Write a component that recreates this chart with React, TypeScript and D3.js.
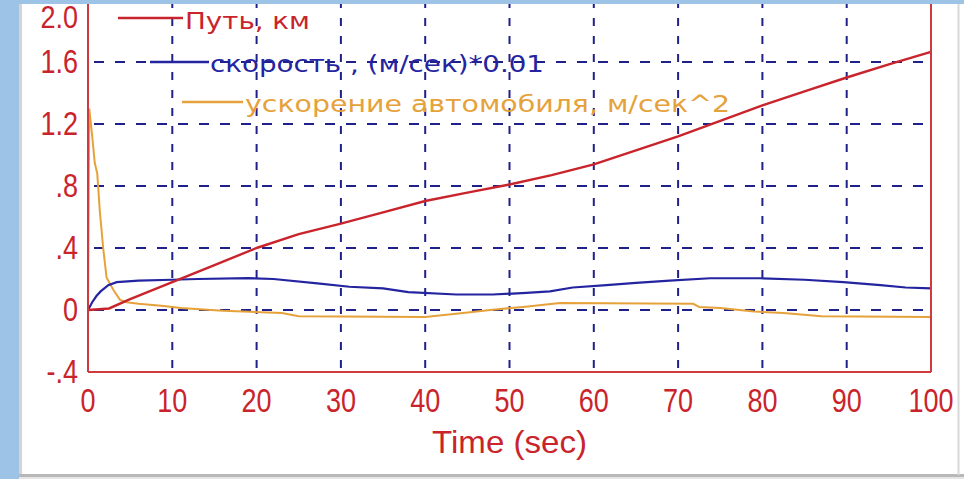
import React from 'react';
import * as d3 from 'd3';

// distance, km
const pathT = [0, 2.5, 5, 10, 15, 20, 25, 30, 35, 40, 45, 50, 55, 60, 65, 70, 75, 80, 85, 90, 95, 100];
const pathV = [0, 0.01, 0.07, 0.18, 0.29, 0.4, 0.49, 0.557, 0.63, 0.703, 0.757, 0.81, 0.87, 0.94, 1.03, 1.12, 1.22, 1.32, 1.41, 1.5, 1.585, 1.665];

// speed, (m/s)*0.01
const speedT = [0, 0.5, 1, 1.5, 2.4, 3.4, 6, 10, 13, 19, 22, 27.5, 31, 35, 38, 43.7, 48, 52, 54.8, 57.5, 61.5, 65, 69, 73.8, 79.7, 85, 89.6, 94, 97, 100];
const speedV = [0, 0.05, 0.09, 0.12, 0.16, 0.18, 0.19, 0.195, 0.2, 0.205, 0.2, 0.17, 0.15, 0.14, 0.115, 0.1, 0.1, 0.11, 0.12, 0.145, 0.16, 0.175, 0.19, 0.205, 0.205, 0.195, 0.18, 0.16, 0.145, 0.14];

// acceleration, m/s^2
const accT = [0, 0.15, 0.5, 0.8, 1.1, 1.4, 1.8, 2.2, 3, 3.8, 4.6, 6, 9, 11, 16, 23, 25, 40, 44.5, 47.7, 51.6, 56, 71.8, 72.5, 75, 79, 82.5, 87, 100];
const accV = [0, 1.3, 1.12, 0.95, 0.88, 0.64, 0.4, 0.21, 0.13, 0.065, 0.05, 0.04, 0.026, 0.013, -0.005, -0.02, -0.04, -0.045, -0.02, 0, 0.02, 0.045, 0.04, 0.02, 0.013, -0.01, -0.02, -0.04, -0.045];

const xTicks = [0, 10, 20, 30, 40, 50, 60, 70, 80, 90, 100];
const yTicks = [2.0, 1.6, 1.2, 0.8, 0.4, 0, -0.4];
const yTickLabels = ['2.0', '1.6', '1.2', '.8', '.4', '0', '-.4'];

const legendNames = ['Путь, км', 'скорость , (м/сек)*0.01', 'ускорение автомобиля, м/сек^2'];

const RED = '#c9242c';
const BLUE = '#2424a0';
const ORANGE = '#e6a23a';
const GRID = '#20208a';
const AXIS = '#cf3a3e';

const Txt = ({ x, y, sy = 1, children, ...rest }: any) => (
  <text transform={`translate(${x},${y}) scale(1,${sy})`} {...rest}>{children}</text>
);

export default function App() {
  const W = 964, H = 479;
  const left = 88, right = 931, top = 0, bottom = 372;
  const x = d3.scaleLinear().domain([0, 100]).range([left, right]);
  const y = d3.scaleLinear().domain([-0.4, 2.0]).range([bottom, top]);

  const line = (ts: number[], vs: number[]) =>
    d3.line<number>().x((_, i) => x(ts[i])).y(d => y(d))(vs) || '';

  const legend = [
    { color: RED, x1: 118, x2: 183, ly: 18, tx: 185, tb: 29, len: 125 },
    { color: BLUE, x1: 150, x2: 209, ly: 62, tx: 210, tb: 72, len: 334 },
    { color: ORANGE, x1: 182, x2: 243, ly: 102, tx: 245, tb: 112, len: 485 },
  ];

  return (
    <svg width={W} height={H} style={{ position: 'absolute', left: 0, top: 0 }}>
      <rect x={0} y={0} width={W} height={H} fill="#9dc3e6" />
      <rect x={19} y={4} width={W - 19} height={471} fill="#ffffff" />
      <line x1={20.5} x2={20.5} y1={4} y2={475} stroke="#d4d4d4" strokeWidth={3} />
      <line x1={19} x2={W} y1={475.5} y2={475.5} stroke="#b8b8b8" strokeWidth={3} />
      <line x1={958.5} x2={958.5} y1={4} y2={475} stroke="#d8d8d8" strokeWidth={2} />
      <rect x={19} y={477} width={W - 19} height={2} fill="#e6e6e6" />

      {/* grid */}
      {xTicks.slice(1, -1).map(t => (
        <line key={'gx' + t} x1={x(t)} x2={x(t)} y1={top} y2={bottom} stroke={GRID}
          strokeWidth={2} strokeDasharray="8,10" />
      ))}
      {yTicks.slice(1, -1).map(v => (
        <line key={'gy' + v} x1={left} x2={right} y1={y(v)} y2={y(v)} stroke={GRID}
          strokeWidth={2} strokeDasharray="10,11" strokeDashoffset={-6} />
      ))}

      {/* series */}
      <path d={line(accT, accV)} fill="none" stroke={ORANGE} strokeWidth={2} />
      <path d={line(speedT, speedV)} fill="none" stroke={BLUE} strokeWidth={2.2} />
      <path d={line(pathT, pathV)} fill="none" stroke={RED} strokeWidth={2.4} />

      {/* axes frame */}
      <line x1={left} x2={left} y1={0} y2={bottom} stroke={AXIS} strokeWidth={2} />
      <line x1={right} x2={right} y1={0} y2={bottom} stroke={AXIS} strokeWidth={2} />
      <line x1={left} x2={right} y1={bottom} y2={bottom} stroke={AXIS} strokeWidth={2} />

      {/* legend */}
      {legend.map((l, i) => (
        <g key={'lg' + i}>
          <line x1={l.x1} x2={l.x2} y1={l.ly} y2={l.ly} stroke={l.color} strokeWidth={2.5} />
          <Txt x={l.tx} y={l.tb} sy={1.1} fill={l.color} fontFamily="DejaVu Sans" fontSize={21}
            textLength={l.len} lengthAdjust="spacingAndGlyphs">{legendNames[i]}</Txt>
        </g>
      ))}

      {/* y tick labels */}
      {yTicks.map((v, i) => (
        <Txt key={'yl' + v} x={78} y={i === 0 ? 28 : y(v) + 11} sy={i === 0 ? 1.15 : 1.25} textAnchor="end"
          fill={RED} fontFamily="Liberation Sans" fontSize={27}>{yTickLabels[i]}</Txt>
      ))}

      {/* x tick labels */}
      {xTicks.map(t => (
        <Txt key={'xl' + t} x={x(t)} y={412} sy={1.25} textAnchor="middle"
          fill={RED} fontFamily="Liberation Sans" fontSize={27}>{t}</Txt>
      ))}

      <Txt x={(left + right) / 2} y={453} sy={1.15} textAnchor="middle" fill={RED}
        fontFamily="Liberation Sans" fontSize={28} textLength={155} lengthAdjust="spacingAndGlyphs">Time (sec)</Txt>

      {/* top / left window strip */}
      <rect x={0} y={0} width={W} height={4} fill="#9dc3e6" />
      <rect x={0} y={0} width={19} height={H} fill="#9dc3e6" />
    </svg>
  );
}
